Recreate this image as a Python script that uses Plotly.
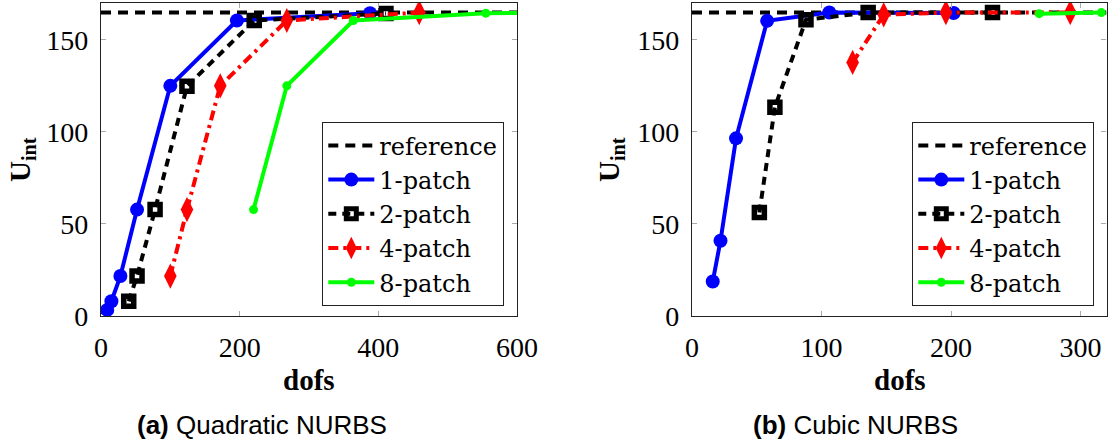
import plotly.graph_objects as go

# ---------------- data ----------------
REF_VALUE = 164.9

# (a) Quadratic NURBS
q_ref_x = [0, 600]
q1_x = [9, 15, 28, 52, 100, 196, 388]
q1_y = [3.3, 8.0, 21.7, 57.8, 125.0, 160.5, 164.5]
q2_x = [40, 52, 78, 124, 221, 411]
q2_y = [8.0, 21.7, 57.8, 124.8, 160.5, 164.3]
q4_x = [100, 124, 172, 268, 459]
q4_y = [21.7, 57.8, 125.0, 160.5, 164.8]
q8_x = [220, 268, 364, 555, 940]
q8_y = [57.8, 125.0, 160.5, 164.5, 164.9]

# (b) Cubic NURBS
c_ref_x = [0, 320]
c1_x = [16, 22, 34, 58, 106, 202]
c1_y = [18.7, 40.9, 96.5, 160.3, 164.8, 164.6]
c2_x = [52, 64, 88, 136, 232]
c2_y = [56.2, 113.4, 160.9, 164.8, 164.8]
c4_x = [124, 148, 196, 292]
c4_y = [137.7, 163.6, 164.8, 164.8]
c8_x = [268, 316]
c8_y = [164.2, 164.8]

series_names = ["reference", "1-patch", "2-patch", "4-patch", "8-patch"]
x_ticks_a = [0, 200, 400, 600]
x_ticks_b = [0, 100, 200, 300]
y_ticks = [0, 50, 100, 150]

W, H = 1108, 446
SERIF = "Liberation Serif"
LEG_SERIF = "DejaVu Serif"
SANS = "Liberation Sans"

fig = go.Figure()


def add_panel(xa, ya, leg, ref_x, s1, s2, s4, s8):
    fig.add_trace(go.Scatter(
        x=ref_x, y=[REF_VALUE] * len(ref_x), mode="lines", name=series_names[0],
        line=dict(color="black", width=4, dash="10px,7px"),
        xaxis=xa, yaxis=ya, legend=leg))
    fig.add_trace(go.Scatter(
        x=s1[0], y=s1[1], mode="lines+markers", name=series_names[1],
        line=dict(color="#0000ff", width=4),
        marker=dict(symbol="circle", size=14, color="#0000ff"),
        xaxis=xa, yaxis=ya, legend=leg))
    fig.add_trace(go.Scatter(
        x=s2[0], y=s2[1], mode="lines+markers", name=series_names[2],
        line=dict(color="black", width=4, dash="8px,6px"),
        marker=dict(symbol="square-open", size=10, color="black",
                    line=dict(color="black", width=5.5)),
        xaxis=xa, yaxis=ya, legend=leg))
    fig.add_trace(go.Scatter(
        x=s4[0], y=s4[1], mode="lines+markers", name=series_names[3],
        line=dict(color="#ff0000", width=4, dash="10px,5px,3px,5px"),
        marker=dict(symbol="diamond-tall", size=18, color="#ff0000"),
        xaxis=xa, yaxis=ya, legend=leg))
    fig.add_trace(go.Scatter(
        x=s8[0], y=s8[1], mode="lines+markers", name=series_names[4],
        line=dict(color="#00ff00", width=4),
        marker=dict(symbol="circle", size=9, color="#00ff00"),
        xaxis=xa, yaxis=ya, legend=leg))


add_panel("x", "y", "legend", q_ref_x, (q1_x, q1_y), (q2_x, q2_y), (q4_x, q4_y), (q8_x, q8_y))
add_panel("x2", "y2", "legend2", c_ref_x, (c1_x, c1_y), (c2_x, c2_y), (c4_x, c4_y), (c8_x, c8_y))

ydom = [1 - 316 / H, 1 - 3 / H]
axis_common = dict(
    showgrid=False, zeroline=False, showline=True, linecolor="#222222", linewidth=1.3,
    mirror="ticks", ticks="inside", ticklen=5, tickwidth=1, tickcolor="#aaaaaa",
    tickfont=dict(family=SERIF, size=28, color="black"), ticklabelstandoff=6,
    automargin=False,
)

legend_common = dict(
    bgcolor="white", bordercolor="#222222", borderwidth=1.3,
    font=dict(family=LEG_SERIF, size=24, color="black"),
    xanchor="right", yanchor="bottom", y=1 - 306 / H,
    tracegroupgap=0, itemwidth=46,
)

fig.update_layout(
    width=W, height=H,
    margin=dict(l=0, r=0, t=0, b=0, autoexpand=False),
    paper_bgcolor="white", plot_bgcolor="white",
    xaxis=dict(domain=[101 / W, 517 / W], range=[0, 600], tickvals=x_ticks_a,
               anchor="y", **axis_common),
    yaxis=dict(domain=ydom, range=[0, 170], tickvals=y_ticks, anchor="x", **axis_common),
    xaxis2=dict(domain=[692 / W, 1106.5 / W], range=[0, 320], tickvals=x_ticks_b,
                anchor="y2", **axis_common),
    yaxis2=dict(domain=ydom, range=[0, 170], tickvals=y_ticks, anchor="x2", **axis_common),
    legend=dict(x=504 / W, **legend_common),
    legend2=dict(x=1094 / W, **legend_common),
    showlegend=True,
)

ann_font = dict(family=SERIF, size=29, color="black")
annotations = [
    dict(text="<b>dofs</b>", x=309 / W, y=1 - 380 / H, font=ann_font),
    dict(text="<b>dofs</b>", x=899.5 / W, y=1 - 380 / H, font=ann_font),
    dict(text="<b>U</b><sub><b>int</b></sub>", x=22 / W, y=1 - 160 / H, textangle=-90, font=ann_font),
    dict(text="<b>U</b><sub><b>int</b></sub>", x=611 / W, y=1 - 160 / H, textangle=-90, font=ann_font),
    dict(text="<b>(a)</b> Quadratic NURBS", x=262 / W, y=1 - 425 / H,
         font=dict(family=SANS, size=26, color="black")),
    dict(text="<b>(b)</b> Cubic NURBS", x=855 / W, y=1 - 425 / H,
         font=dict(family=SANS, size=26, color="black")),
]
for a in annotations:
    fig.add_annotation(xref="paper", yref="paper", showarrow=False,
                       xanchor="center", yanchor="middle", **a)

fig.write_html("out.html")
